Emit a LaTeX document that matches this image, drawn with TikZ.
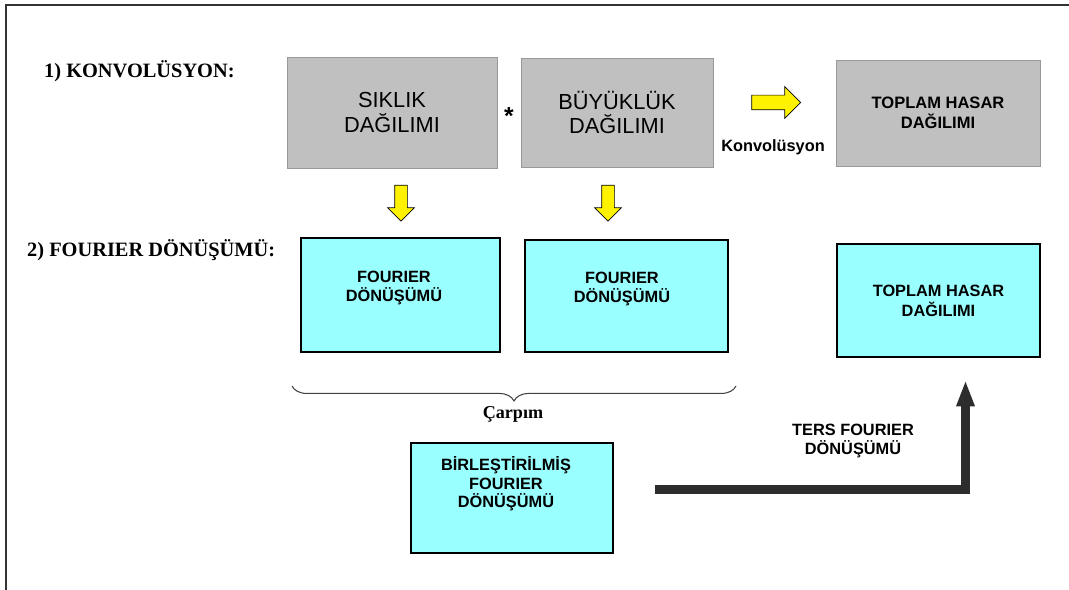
\documentclass[tikz,border=0pt]{standalone}
\usepackage{fontspec}
\setmainfont{Liberation Serif}
\setsansfont{Liberation Sans}
\usetikzlibrary{shapes.arrows,arrows.meta,decorations.pathreplacing}
\definecolor{boxgray}{RGB}{192,192,192}
\definecolor{boxcyan}{RGB}{153,255,255}
\definecolor{bardark}{RGB}{45,45,45}

\begin{document}
\begin{tikzpicture}[x=0.02cm,y=-0.02cm,
  graybox/.style={draw=gray!80, fill=boxgray, align=center,
    font=\sffamily\fontsize{12.4}{13.8}\selectfont},
  cyanbox/.style={draw=black, line width=1.3pt, fill=boxcyan, align=center,
    font=\sffamily\bfseries\fontsize{9.3}{11.5}\selectfont},
  boldtext/.style={align=center, font=\sffamily\bfseries\fontsize{9.3}{11}\selectfont},
  rowlabel/.style={anchor=west, font=\bfseries\fontsize{11.6}{13}\selectfont},
  yellowarrow/.style={single arrow, draw=black, fill=yellow, inner xsep=0pt},
  tersarrow/.style={draw=bardark, line width=5pt, -{Triangle[length=15pt,width=9.5pt]}}
]
\useasboundingbox (0,0) rectangle (1069,590);
\draw[line width=1.1pt, black!80] (1069,5) -- (6,5) -- (6,590);

\node[rowlabel] (konvlabel) at (38,71) {1) KONVOLÜSYON:};
\node[rowlabel] (fourlabel) at (21,250) {2) FOURIER DÖNÜŞÜMÜ:};

\node[graybox, minimum width=4.2cm, minimum height=2.22cm] (siklik) at (392,112.5) {SIKLIK\\DAĞILIMI};
\node[graybox, minimum width=3.84cm, minimum height=2.18cm] (buyukluk) at (617,112.5) {BÜYÜKLÜK\\DAĞILIMI};
\node[graybox, minimum width=4.08cm, minimum height=2.12cm,
  font=\sffamily\bfseries\fontsize{9.4}{11.3}\selectfont] (toplamg) at (938,113) {TOPLAM HASAR\\DAĞILIMI};
\node[font=\sffamily\bfseries\fontsize{14}{14}\selectfont] (star) at (509,116) {*};

\node[yellowarrow, inner ysep=0.14cm, minimum height=0.98cm,
  single arrow head extend=0.17cm] (konvarrow) at (772.5,102.5) {};
\node[boldtext] (konvtext) at (773,147) {Konvolüsyon};

\node[yellowarrow, rotate=-90, inner ysep=0.12cm, minimum height=0.72cm,
  single arrow head extend=0.14cm] (downa) at (401,200) {};
\node[yellowarrow, rotate=-90, inner ysep=0.12cm, minimum height=0.72cm,
  single arrow head extend=0.14cm] (downb) at (608,200) {};

\node[cyanbox, minimum width=3.98cm, minimum height=2.28cm] (fourier1) at (400.5,295) {};
\node[boldtext] (fourier1text) at (394,288) {FOURIER\\DÖNÜŞÜMÜ};
\node[cyanbox, minimum width=4.06cm, minimum height=2.24cm] (fourier2) at (626.5,296) {};
\node[boldtext] (fourier2text) at (622,289) {FOURIER\\DÖNÜŞÜMÜ};
\node[cyanbox, minimum width=4.06cm, minimum height=2.26cm] (toplamc) at (938.5,300.5) {TOPLAM HASAR\\DAĞILIMI};

\coordinate (bracel) at (292,386);
\coordinate (bracer) at (736,386);
\draw[black!75, line width=0.6pt, decorate, decoration={brace, mirror, amplitude=8.5pt}] (bracel) -- (bracer);
\node[font=\bfseries\fontsize{10.3}{12}\selectfont] (carpim) at (513,414) {Çarpım};

\node[cyanbox, minimum width=4.04cm, minimum height=2.2cm] (birles) at (512,498) {};
\node[boldtext, font=\sffamily\bfseries\fontsize{9.3}{10.5}\selectfont] (birlestext) at (506,484) {BİRLEŞTİRİLMİŞ\\FOURIER\\DÖNÜŞÜMÜ};

\node[boldtext] (terstext) at (853,441) {TERS FOURIER\\DÖNÜŞÜMÜ};
\coordinate (tersstart) at (655,489.5);
\coordinate (terstip) at (965.5,380);
\draw[tersarrow] (tersstart) -| (terstip);

\end{tikzpicture}
\end{document}
